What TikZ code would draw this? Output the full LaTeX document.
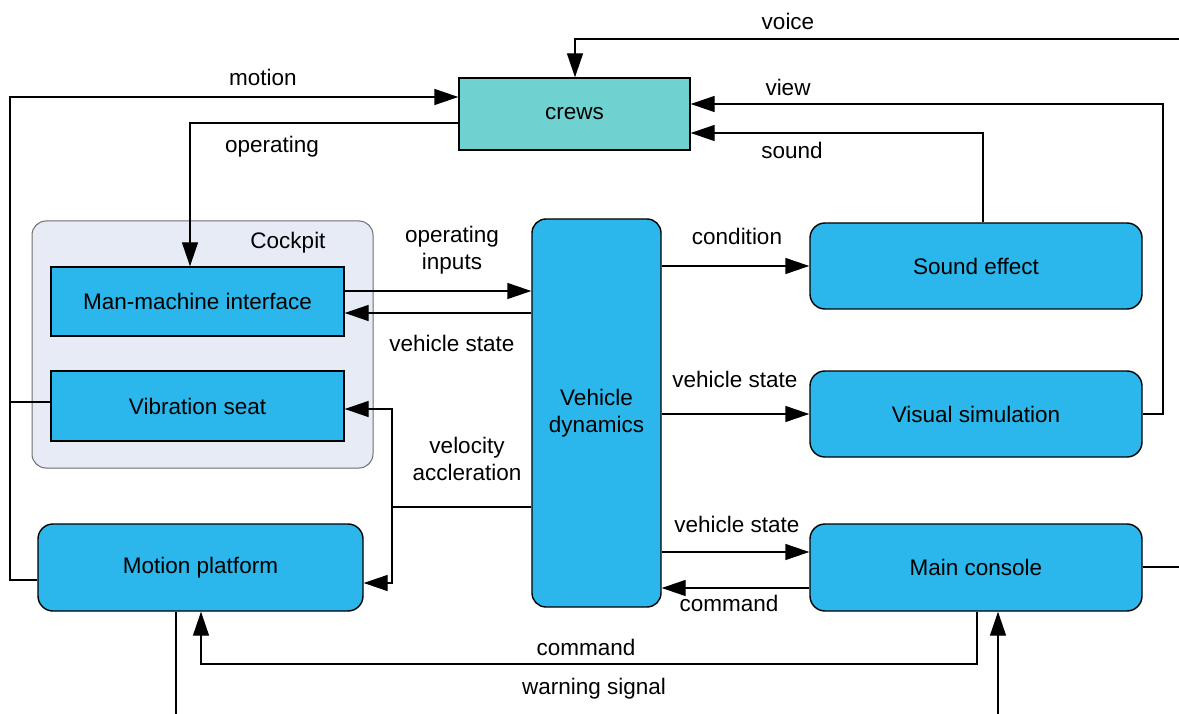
\documentclass[tikz,border=0pt]{standalone}
\usepackage{fontspec}
\setmainfont{Liberation Sans}
\usetikzlibrary{arrows.meta}
\definecolor{boxblue}{RGB}{43,183,236}
\definecolor{crewteal}{RGB}{112,210,208}
\definecolor{cockpitbg}{RGB}{230,235,246}
\definecolor{cockpitline}{RGB}{110,110,110}
\begin{document}
\begin{tikzpicture}[x=1pt,y=-1pt,line width=1.4pt,
  font=\fontsize{22.5}{26.5}\selectfont,
  sqbox/.style={draw=black,fill=boxblue,inner sep=0pt,align=center},
  rbox/.style={draw=black,fill=boxblue,rounded corners=15pt,inner sep=0pt,align=center},
  lbl/.style={inner sep=0pt,align=center},
  arr/.style={-{Triangle[length=24pt,width=16pt]}}]
\useasboundingbox (0,0) rectangle (1179,714);

% cockpit group
\node[fill=cockpitbg,draw=cockpitline,line width=1pt,rounded corners=14pt,
  minimum width=341pt,minimum height=247pt,inner sep=0pt] (cockpit) at (202.5,344.5) {};
\node[lbl] (cockpitlbl) at (288,243) {Cockpit};

% blocks
\node[sqbox,fill=crewteal,minimum width=231pt,minimum height=72pt] (crews) at (574.5,114) {crews};
\node[sqbox,minimum width=293pt,minimum height=69pt] (mmi) at (197.5,301.5) {Man-machine interface};
\node[sqbox,minimum width=293pt,minimum height=70pt] (seat) at (197.5,406) {Vibration seat};
\node[rbox,rounded corners=14pt,minimum width=129pt,minimum height=388pt] (vd) at (596.5,413) {Vehicle\\dynamics};
\node[rbox,minimum width=332pt,minimum height=86pt] (sound) at (976,266) {Sound effect};
\node[rbox,minimum width=332pt,minimum height=86pt] (visual) at (976,414) {Visual simulation};
\node[rbox,minimum width=332pt,minimum height=87pt] (console) at (976,567.5) {Main console};
\node[rbox,minimum width=325pt,minimum height=87pt] (platform) at (200.5,567.5) {Motion platform};

% bend points and free ends
\coordinate (vR) at (1179,39);
\coordinate (vC) at (575,39);
\coordinate (viewR) at (1163,104);
\coordinate (sndT) at (983,133);
\coordinate (motL) at (10,97);
\coordinate (motB) at (10,580);
\coordinate (opC) at (190,123);
\coordinate (velC) at (392,507);
\coordinate (conR) at (1179,567);
\coordinate (cmdR) at (977,664);
\coordinate (cmdL) at (201,664);
\coordinate (warnB) at (998,714);
\coordinate (platB) at (176,714);

% connectors
\draw[arr] (vR) -- (vC) -- (vC |- crews.north);
\draw[arr] (visual.east) -| (viewR) -- (crews.east |- viewR);
\draw[arr] (sound.north -| sndT) -- (sndT) -- (crews.east |- sndT);
\draw[arr] (platform.west |- motB) -- (motB) -- (motL) -- (crews.west |- motL);
\draw (seat.west |- 0,402) -- (motB |- 0,402);
\draw[arr] (crews.west |- opC) -- (opC) -- (opC |- mmi.north);
\draw[arr] (mmi.east |- 0,291) -- (vd.west |- 0,291);
\draw[arr] (vd.west |- 0,313) -- (mmi.east |- 0,313);
\draw (vd.west |- velC) -- (velC);
\draw[arr] (velC) -- (velC |- 0,409) -- (seat.east |- 0,409);
\draw[arr] (velC) -- (velC |- 0,583) -- (platform.east |- 0,583);
\draw[arr] (vd.east |- sound.west) -- (sound.west);
\draw[arr] (vd.east |- visual.west) -- (visual.west);
\draw[arr] (vd.east |- 0,552) -- (console.west |- 0,552);
\draw[arr] (console.west |- 0,588) -- (vd.east |- 0,588);
\draw (console.east |- conR) -- (conR);
\draw[arr] (console.south -| cmdR) -- (cmdR) -- (cmdL) -- (cmdL |- platform.south);
\draw[arr] (warnB) -- (warnB |- console.south);
\draw (platform.south -| platB) -- (platB);

% connector labels
\node[lbl] (lvoice) at (788,21) {voice};
\node[lbl] (lview) at (788,87) {view};
\node[lbl] (lsound) at (792,150) {sound};
\node[lbl] (lmotion) at (263,77) {motion};
\node[lbl] (loper) at (272,147) {operating};
\node[lbl] (lopin) at (452,250) {operating\\inputs};
\node[lbl] (lvs1) at (452,343) {vehicle state};
\node[lbl] (lvel) at (467,459) {velocity\\accleration};
\node[lbl] (lcond) at (737,236) {condition};
\node[lbl] (lvs2) at (735,379) {vehicle state};
\node[lbl] (lvs3) at (737,524) {vehicle state};
\node[lbl] (lcmd1) at (729,603) {command};
\node[lbl] (lcmd2) at (586,647) {command};
\node[lbl] (lwarn) at (594,689) {warning signal};
\end{tikzpicture}
\end{document}
